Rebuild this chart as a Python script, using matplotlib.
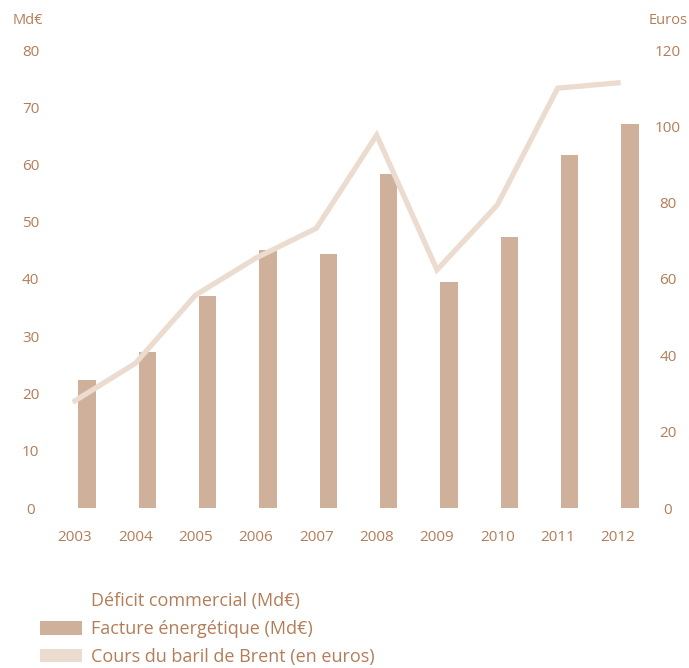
import matplotlib.pyplot as plt
from matplotlib.patches import Patch
import numpy as np

plt.rcParams['font.family'] = ['Open Sans', 'DejaVu Sans']

# Données annuelles
annees = ['2003', '2004', '2005', '2006', '2007', '2008', '2009', '2010', '2011', '2012']
facture = [22.4, 27.3, 37.1, 45.1, 44.3, 58.3, 39.4, 47.3, 61.7, 67.1]   # Md€
brent = [28.1, 37.9, 55.8, 65.5, 73.3, 97.7, 62.4, 79.4, 110.0, 111.4]  # euros / baril

c_texte = '#b47d58'
c_barre = '#cfb09a'
c_ligne = '#ecdccf'

fig = plt.figure(figsize=(6.89, 6.68), dpi=100)
ax = fig.add_axes([50 / 689, 160 / 668, 600 / 689, 458 / 668])
ax2 = ax.twinx()

x = np.arange(len(annees))
ax.bar(x + 0.2, facture, width=0.29, color=c_barre, zorder=2)
ax2.plot(x, brent, color=c_ligne, lw=3.8, solid_joinstyle='miter', zorder=3)

ax.set_xlim(-25 / 60.3, 9 + 32 / 60.3)
ax.set_ylim(0, 80)
ax2.set_ylim(0, 120)
ax.set_yticks(range(0, 81, 10))
ax2.set_yticks(range(0, 121, 20))
ax.set_xticks(x)
ax.set_xticklabels(annees)

for a in (ax, ax2):
    for s in a.spines.values():
        s.set_visible(False)
    a.tick_params(length=0, colors=c_texte, labelsize=11)
ax.tick_params(axis='x', pad=16)
ax.tick_params(axis='y', pad=14)
ax2.tick_params(axis='y', pad=13)
for t in ax.get_yticklabels():
    t.set_horizontalalignment('center')
for t in ax2.get_yticklabels():
    t.set_horizontalalignment('center')
ax.set_zorder(ax2.get_zorder() - 1)
ax2.patch.set_visible(False)

fig.text(28 / 689, 1 - 20 / 668, 'Md€', color=c_texte, fontsize=10.5,
         ha='center', va='center')
fig.text(668 / 689, 1 - 20 / 668, 'Euros', color=c_texte, fontsize=10.5,
         ha='center', va='center')

# Légende
poignees = [Patch(facecolor='white', edgecolor='none'),
            Patch(facecolor=c_barre, edgecolor='none'),
            Patch(facecolor=c_ligne, edgecolor='none')]
etiquettes = ['Déficit commercial (Md€)', 'Facture énergétique (Md€)',
              'Cours du baril de Brent (en euros)']
fig.legend(poignees, etiquettes, loc='upper left',
           bbox_to_anchor=(40 / 689, 1 - 592 / 668), frameon=False,
           fontsize=13, labelcolor=c_texte, handlelength=2.3,
           handleheight=0.8, handletextpad=0.55, labelspacing=0.55,
           borderpad=0, borderaxespad=0)

fig.savefig('out.png', dpi=100)
